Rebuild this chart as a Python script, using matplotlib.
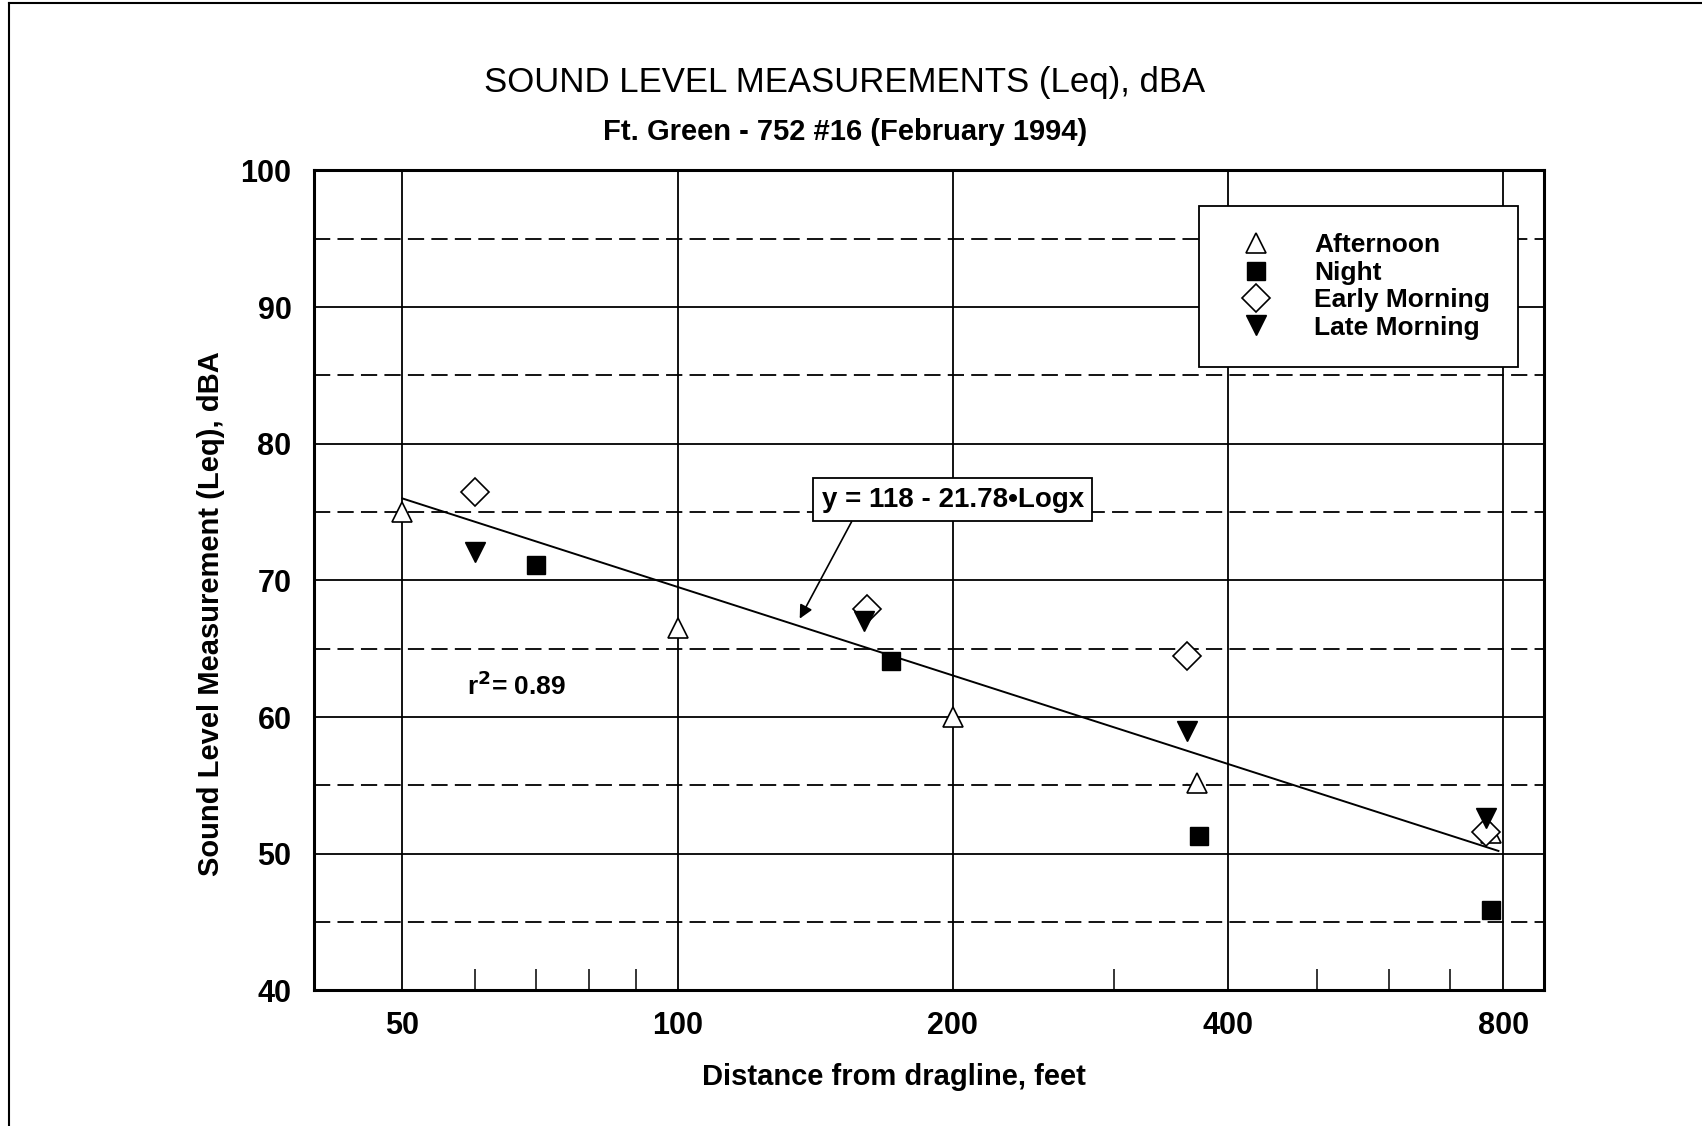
import matplotlib
matplotlib.use('Agg')
import matplotlib.pyplot as plt
from matplotlib.lines import Line2D
from matplotlib.ticker import FixedLocator, NullFormatter

# Sound level measurements, Ft. Green - 752 #16

plt.rcParams['font.family'] = ['Liberation Sans', 'DejaVu Sans']

afternoon_x = [50, 100, 200, 370, 775]
afternoon_y = [75.0, 66.5, 60.0, 55.2, 51.5]

night_x = [70, 171, 372, 775]
night_y = [71.1, 64.1, 51.3, 45.9]

early_x = [60, 161, 361, 766]
early_y = [76.5, 67.9, 64.5, 51.6]

late_x = [60, 160, 361, 766]
late_y = [72.1, 67.0, 59.0, 52.6]

# regression line as drawn on the chart
fit_x = [50, 790]
fit_y = [76.0, 50.2]

x_ticks = [50, 100, 200, 400, 800]
x_minor = [60, 70, 80, 90, 300, 500, 600, 700]
y_ticks = [40, 50, 60, 70, 80, 90, 100]
y_dashed = [45, 55, 65, 75, 85, 95]

fig = plt.figure(figsize=(17.02, 11.26), dpi=100)
ax = fig.add_axes([0.1843, 0.1205, 0.7226, 0.7281])

ax.set_xscale('log')
ax.set_xlim(40, 885)
ax.set_ylim(40, 100)

# grid
for v in x_ticks:
    ax.axvline(v, color='black', lw=1.3, zorder=1)
for v in y_ticks[1:-1]:
    ax.axhline(v, color='black', lw=1.3, zorder=1)
for v in y_dashed:
    ax.axhline(v, color='black', lw=1.3, ls=(0, (9, 4)), zorder=1)

ax.plot(fit_x, fit_y, color='black', lw=1.4, zorder=2)

ax.plot(afternoon_x, afternoon_y, ls='none', marker='^', ms=15, mfc='white', mec='black', mew=1.2,
        label='Afternoon', zorder=3)
ax.plot(night_x, night_y, ls='none', marker='s', ms=13, mfc='black', mec='black',
        label='Night', zorder=3)
ax.plot(early_x, early_y, ls='none', marker='D', ms=14, mfc='white', mec='black', mew=1.2,
        label='Early Morning', zorder=3)
ax.plot(late_x, late_y, ls='none', marker='v', ms=15, mfc='black', mec='black',
        label='Late Morning', zorder=4)

# equation box with arrow
ax.text(200, 75.9, 'y = 118 - 21.78\u2022Logx', fontsize=20, fontweight='bold', ha='center', va='center',
        bbox=dict(boxstyle='square,pad=0.3', fc='white', ec='black', lw=1.3), zorder=5)
ax.annotate('', xy=(136, 67.2), xytext=(155, 74.3),
            arrowprops=dict(arrowstyle='-|>', color='black', lw=1.2, shrinkA=0, shrinkB=0,
                            mutation_scale=20), zorder=5)
ax.text(58.8, 62.3, r'r$^{\mathbf{2}}$= 0.89', fontsize=19, fontweight='bold', ha='left', va='center')

# ticks
ax.xaxis.set_major_locator(FixedLocator(x_ticks))
ax.set_xticklabels([str(v) for v in x_ticks])
ax.xaxis.set_minor_locator(FixedLocator(x_minor))
ax.xaxis.set_minor_formatter(NullFormatter())
ax.set_yticks(y_ticks)
ax.tick_params(axis='both', which='major', length=0, labelsize=22, width=0)
ax.tick_params(axis='x', which='major', pad=15)
ax.tick_params(axis='y', which='major', pad=16)
ax.tick_params(axis='x', which='minor', direction='in', length=15, width=1.1, top=False)
for lab in ax.get_xticklabels() + ax.get_yticklabels():
    lab.set_fontweight('bold')

for s in ax.spines.values():
    s.set_linewidth(2.2)

ax.set_xlabel('Distance from dragline, feet', fontsize=21, fontweight='bold')
ax.set_ylabel('Sound Level Measurement (Leq), dBA', fontsize=21, fontweight='bold')
ax.xaxis.set_label_coords(0.472, -0.089)
ax.yaxis.set_label_coords(-0.072, 0.46)

fig.text(0.4965, 0.927, 'SOUND LEVEL MEASUREMENTS (Leq), dBA', fontsize=25, ha='center', va='center')
fig.text(0.4965, 0.883, 'Ft. Green - 752 #16 (February 1994)', fontsize=21, fontweight='bold',
         ha='center', va='center')

leg = ax.legend(loc='upper right', bbox_to_anchor=(0.979, 0.957), frameon=True, fancybox=False,
                edgecolor='black', framealpha=1, prop={'weight': 'bold', 'size': 19},
                labelspacing=0.13, borderpad=1.05, handletextpad=1.1, borderaxespad=0,
                handlelength=2.2)
leg.get_frame().set_linewidth(1.3)

# outer page frame
fig.add_artist(Line2D([0.0055, 0.0055], [0.0, 0.997], color='black', lw=1.5))
fig.add_artist(Line2D([0.0055, 1.0], [0.997, 0.997], color='black', lw=1.5))

fig.savefig('out.png', dpi=100)
